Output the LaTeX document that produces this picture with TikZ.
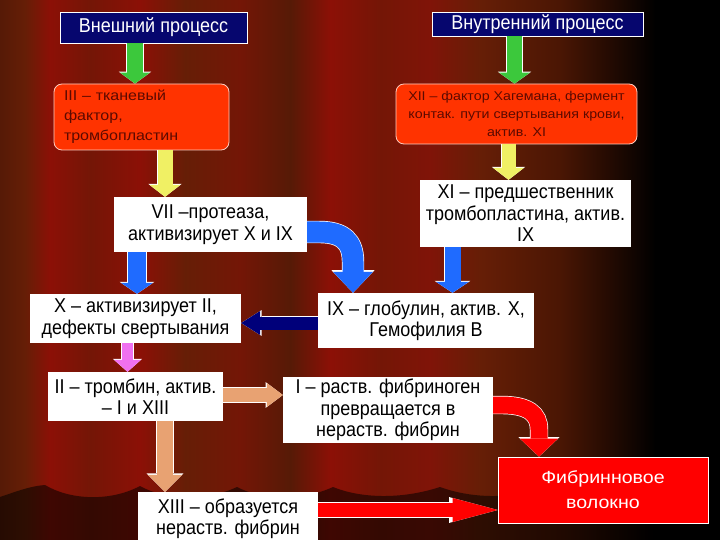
\documentclass[tikz,border=0pt]{standalone}
\usepackage{fontspec}
\setmainfont{Liberation Sans}
\newfontfamily\narrowfont[FakeStretch=0.9]{Liberation Sans}
\newfontfamily\widefont[FakeStretch=1.12]{Liberation Sans}
\usetikzlibrary{arrows.meta,calc}
\definecolor{navybox}{HTML}{06066E}
\definecolor{factorred}{HTML}{FF3300}
\definecolor{factortext}{HTML}{5C0A00}
\definecolor{fibrered}{HTML}{FF0000}
\definecolor{greenarr}{HTML}{3CC83C}
\definecolor{yellowarr}{HTML}{F0F064}
\definecolor{bluearr}{HTML}{1F6BFF}
\definecolor{navyarr}{HTML}{00007A}
\definecolor{pinkarr}{HTML}{F070F0}
\definecolor{tanarr}{HTML}{E8A272}
\definecolor{curtdark}{HTML}{561A06}
\definecolor{curtbrown}{HTML}{661E06}
\definecolor{curtred}{HTML}{801408}
\definecolor{curtbright}{HTML}{8C1006}
\definecolor{curtmid}{HTML}{741606}
\definecolor{curtfade}{HTML}{4A1604}
\tikzset{
  headbox/.style={draw=white, line width=0.8pt, fill=navybox, text=white, inner sep=0pt, font=\narrowfont\fontsize{20}{22}\selectfont},
  factorbox/.style={draw=white!75!factorred, line width=0.8pt, fill=factorred, rounded corners=8pt, text=factortext, align=center, inner sep=0pt, font=\widefont\fontsize{12.7}{18}\selectfont},
  whitebox/.style={fill=white, text=black, align=center, inner sep=0pt, font=\narrowfont\fontsize{20}{21.5}\selectfont},
  fibrebox/.style={draw=white, line width=0.8pt, fill=fibrered, text=white, align=center, inner sep=0pt, font=\widefont\fontsize{17.5}{25}\selectfont},
  blockarrow/.style n args={4}{draw=#1, line width=#2,
    -{Triangle[length=#3, width=#4, fill=#1, line width=0pt]},
    preaction={draw=white, line width=#2+1.4pt,
      -{Triangle[length=#3, width=#4, fill=white, line width=0pt, scale=1.08]}}}
}
\begin{document}
\begin{tikzpicture}[x=1pt, y=-1pt]
\useasboundingbox (0,0) rectangle (720,540);
% curtain
\foreach \xa/\xb/\ca/\cb in {0/25/curtdark/curtbrown, 25/50/curtbrown/curtbright,
    50/90/curtbright/curtmid, 90/140/curtmid/curtbright, 140/185/curtbright/curtbrown,
    185/240/curtbrown/curtmid, 240/290/curtmid/curtdark, 290/330/curtdark/curtbright,
    330/380/curtbright/curtmid, 380/430/curtmid/curtred, 430/480/curtred/curtbrown,
    480/560/curtbrown/curtfade, 560/655/curtfade/black, 655/720/black/black}
  \fill[left color=\ca, right color=\cb] (\xa,0) rectangle (\xb+0.6,540);
\fill[black, opacity=0.55] (0,540) -- (0,497) .. controls (15,492) and (30,486) .. (45,485)
  .. controls (70,500) and (110,502) .. (140,486)
  .. controls (165,500) and (205,502) .. (237,487)
  .. controls (262,500) and (300,502) .. (333,487)
  .. controls (360,498) and (400,500) .. (440,487)
  .. controls (470,498) and (510,500) .. (545,487)
  .. controls (575,498) and (610,500) .. (640,488) -- (720,488) -- (720,540) -- cycle;

% boxes
\node[headbox, minimum width=187pt, minimum height=31pt] (ext) at (153.5,27.5) {Внешний процесс};
\node[headbox, minimum width=211pt, minimum height=24pt] (int) at (537.5,24) {Внутренний процесс};
\node[factorbox, minimum width=175pt, minimum height=66pt, text width=155pt, align=left,
  font=\widefont\fontsize{14.3}{20}\selectfont] (f3) at (141.5,117) {III – тканевый\\фактор,\\тромбопластин};
\node[factorbox, minimum width=241pt, minimum height=60pt] (f12) at (516.5,114)
  {XII – фактор Хагемана, фермент\\контак. пути свертывания крови,\\актив. XI};
\node[whitebox, minimum width=193pt, minimum height=55pt] (f7) at (210.5,224.5)
  {VII –протеаза,\\активизирует X и IX};
\node[whitebox, minimum width=211pt, minimum height=67pt] (f11) at (525.5,213.5)
  {XI – предшественник\\тромбопластина, актив.\\IX};
\node[whitebox, minimum width=211pt, minimum height=49pt] (f10) at (135.5,318.5)
  {X – активизирует II,\\дефекты свертывания};
\node[whitebox, minimum width=216pt, minimum height=55pt] (f9) at (426,320.5)
  {IX – глобулин, актив. X,\\Гемофилия В};
\node[whitebox, minimum width=175pt, minimum height=49pt] (f2) at (135.5,396.5)
  {II – тромбин, актив.\\– I и XIII};
\node[whitebox, minimum width=210pt, minimum height=66pt] (f1) at (388,410)
  {I – раств. фибриноген\\превращается в\\нераств. фибрин};
\node[whitebox, minimum width=180pt, minimum height=53pt] (f13) at (228,518.5)
  {XIII – образуется\\нераств. фибрин};
\node[fibrebox, minimum width=210pt, minimum height=66pt] (fib) at (603,490)
  {Фибринновое\\волокно};

% arrows
\draw[blockarrow={greenarr}{16pt}{11pt}{30pt}] ([xshift=-18.5pt]ext.south) -- ([xshift=-18.5pt]ext.south |- f3.north);
\draw[blockarrow={greenarr}{15pt}{11pt}{31pt}] ([xshift=-23pt]int.south) -- ([xshift=-23pt]int.south |- f12.north);
\draw[blockarrow={yellowarr}{15pt}{12pt}{31pt}] ([xshift=23.5pt]f3.south) -- ([xshift=23.5pt]f3.south |- f7.north);
\draw[blockarrow={yellowarr}{14pt}{12pt}{31pt}] ([xshift=-8pt]f12.south) -- ([xshift=-8pt]f12.south |- f11.north);
\draw[blockarrow={bluearr}{18pt}{11pt}{32pt}] ([xshift=-73.5pt]f7.south) -- ([xshift=-73.5pt]f7.south |- f10.north);
\draw[blockarrow={bluearr}{21pt}{21pt}{40pt}] ([yshift=-7.5pt]f7.east) -- ++(12,0)
  .. controls +(24,0) and +(0,-20) .. ($(f9.north)+(-73,-31)$) -- ([xshift=-73pt]f9.north);
\draw[blockarrow={bluearr}{16pt}{11pt}{33pt}] ([xshift=-73pt]f11.south) -- ([xshift=-73pt]f11.south |- f9.north);
\draw[blockarrow={navyarr}{13pt}{19pt}{24pt}] ([yshift=-2.5pt]f9.west) -- ([yshift=-2.5pt]f9.west -| f10.east);
\draw[blockarrow={pinkarr}{11pt}{12pt}{27pt}] ([xshift=-8pt]f10.south) -- ([xshift=-8pt]f10.south |- f2.north);
\draw[blockarrow={tanarr}{14pt}{16pt}{24pt}] ([yshift=1.5pt]f2.east) -- ([yshift=1.5pt]f2.east -| f1.west);
\draw[blockarrow={tanarr}{16pt}{17pt}{34pt}] ([xshift=29.5pt]f2.south) -- ([xshift=29.5pt]f2.south |- f13.north);
\draw[blockarrow={fibrered}{14pt}{45pt}{24pt}] ([yshift=8.5pt]f13.east) -- ([yshift=8.5pt]f13.east -| fib.west);
\draw[blockarrow={fibrered}{17pt}{18pt}{38pt}] ([yshift=5pt]f1.east) -- ++(8,0)
  .. controls +(27,0) and +(0,-16) .. ($(fib.north)+(-64,-27)$) -- ([xshift=-64pt]fib.north);
\end{tikzpicture}
\end{document}
